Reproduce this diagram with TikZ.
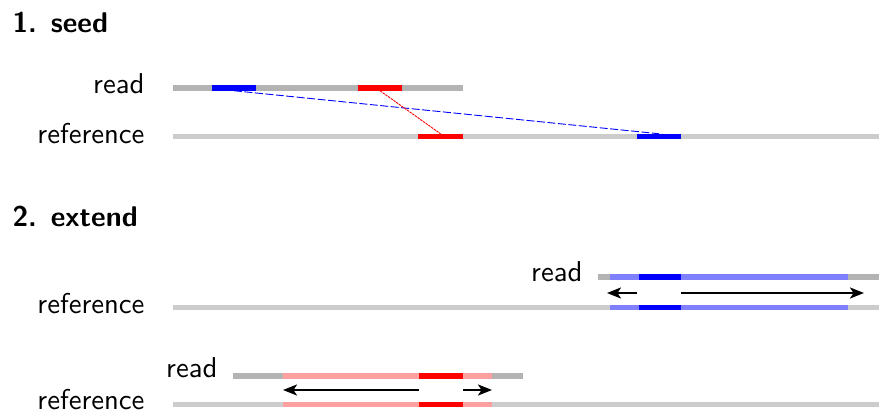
\documentclass[tikz,border=0pt]{standalone}
\usetikzlibrary{arrows.meta}
\definecolor{readgray}{RGB}{179,179,179}
\definecolor{refgray}{RGB}{204,204,204}
\definecolor{lightblue}{RGB}{128,128,255}
\definecolor{lightred}{RGB}{255,160,160}
\begin{document}
\begin{tikzpicture}[x=1pt,y=-1pt,
  bar/.style={rectangle,draw=none,inner sep=0pt,outer sep=0pt,minimum height=5.5pt,anchor=west},
  lbl/.style={font=\sffamily\fontsize{10}{12}\selectfont,scale=2.87,inner sep=0pt,anchor=base east},
  ttl/.style={font=\sffamily\bfseries\fontsize{10}{12}\selectfont,scale=2.85,inner sep=0pt,anchor=base west},
  ext/.style={draw=black,line width=1.9pt,-{Stealth[length=14pt,width=11pt,inset=3.5pt]}},
  seedlink/.style={line width=0.9pt}]
\useasboundingbox (0,0) rectangle (879,412);

% ---- 1. seed ----
\node[ttl] (t1) at (12,33) {1. seed};
\node[lbl] (l1r) at (145,94) {read};
\node[lbl] (l1f) at (145,143) {reference};

\node[bar,fill=readgray,minimum width=290pt] (r1) at (173,88) {};
\node[bar,fill=blue,minimum width=44pt] (r1b) at (212,88) {};
\node[bar,fill=red,minimum width=44pt] (r1r) at (358,88) {};

\node[bar,fill=refgray,minimum width=706pt] (f1) at (173,136.5) {};
\node[bar,fill=red,minimum width=45pt] (f1r) at (418,136.5) {};
\node[bar,fill=blue,minimum width=44pt] (f1b) at (637,136.5) {};

\draw[seedlink,blue,dash pattern=on 8pt off 2.5pt] (r1b.south) -- (f1b.north);
\draw[seedlink,red,dash pattern=on 2.5pt off 0.8pt] (r1r.south) -- (f1r.north);

% ---- 2. extend ----
\node[ttl] (t2) at (12,226) {2. extend};

% forward extension of the blue seed
\node[lbl] (l2r) at (583,281) {read};
\node[lbl] (l2f) at (145,313.5) {reference};

\node[bar,fill=readgray,minimum width=281pt] (r2) at (598,277) {};
\node[bar,fill=lightblue,minimum width=238pt] (r2x) at (610,277) {};
\node[bar,fill=blue,minimum width=42.5pt] (r2b) at (638.5,277) {};

\node[bar,fill=refgray,minimum width=706pt] (f2) at (173,307.5) {};
\node[bar,fill=lightblue,minimum width=238pt] (f2x) at (610,307.5) {};
\node[bar,fill=blue,minimum width=42.5pt] (f2b) at (638.5,307.5) {};

\coordinate (a2ls) at (637,293);
\coordinate (a2le) at (607,293);
\coordinate (a2rs) at (681,293);
\coordinate (a2re) at (864,293);
\draw[ext] (a2ls) -- (a2le);
\draw[ext] (a2rs) -- (a2re);

% extension of the red seed
\node[lbl] (l3r) at (218,377) {read};
\node[lbl] (l3f) at (145,409.5) {reference};

\node[bar,fill=readgray,minimum width=290pt] (r3) at (233,376) {};
\node[bar,fill=lightred,minimum width=209pt] (r3x) at (283,376) {};
\node[bar,fill=red,minimum width=44pt] (r3r) at (419,376) {};

\node[bar,fill=refgray,minimum width=706pt] (f3) at (173,404.5) {};
\node[bar,fill=lightred,minimum width=209pt] (f3x) at (283,404.5) {};
\node[bar,fill=red,minimum width=44pt] (f3r) at (419,404.5) {};

\coordinate (a3ls) at (419,390);
\coordinate (a3le) at (283,390);
\coordinate (a3rs) at (463,390);
\coordinate (a3re) at (492,390);
\draw[ext] (a3ls) -- (a3le);
\draw[ext] (a3rs) -- (a3re);
\end{tikzpicture}
\end{document}
